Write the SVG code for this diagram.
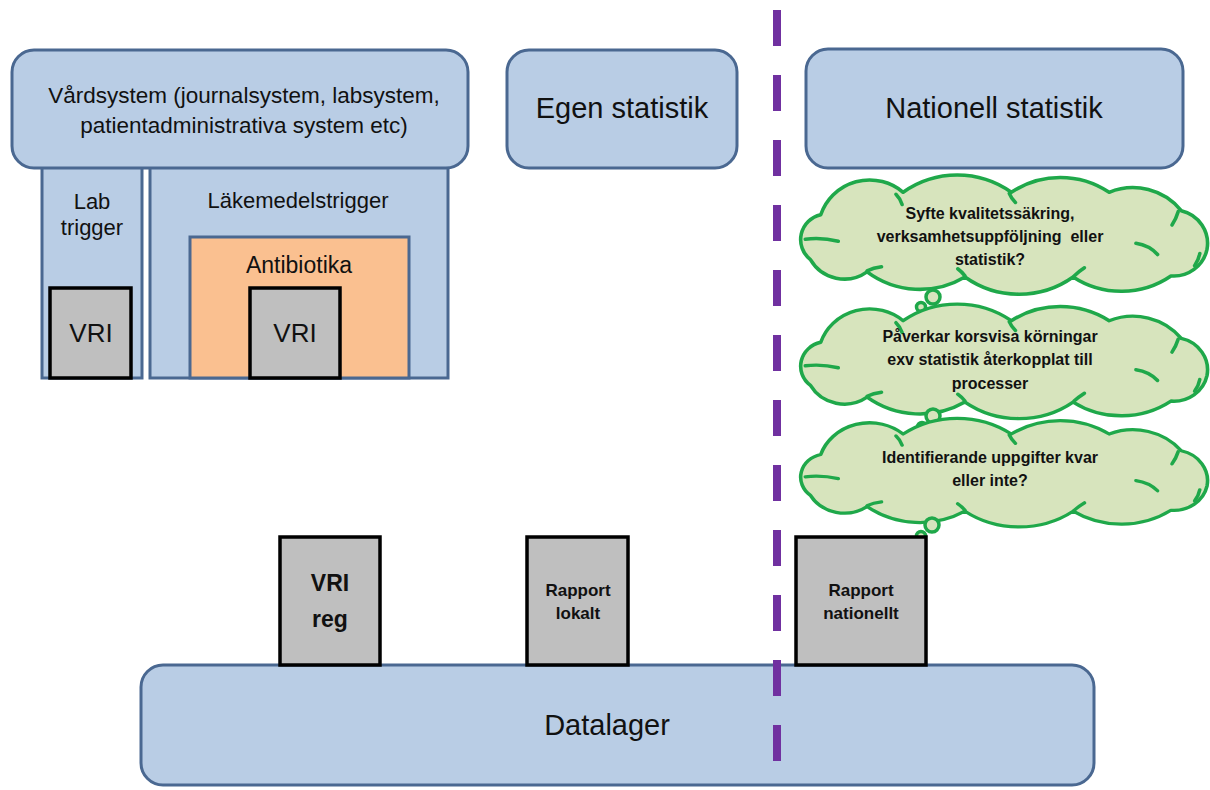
<svg xmlns="http://www.w3.org/2000/svg" width="1210" height="790" viewBox="0 0 1210 790">
<style>
.blue{fill:#b9cde5;stroke:#4a6891;stroke-width:3}
.orange{fill:#fac090;stroke:#4a6891;stroke-width:3}
.gray{fill:#bfbfbf;stroke:#000;stroke-width:3.5}
.cloud{fill:#d7e4bd;stroke:#1fa84a;stroke-width:3.5;stroke-linejoin:round}
.inner{fill:none;stroke:#1fa84a;stroke-width:3.5;stroke-linecap:round}
.t{font-family:"Liberation Sans",Arial,sans-serif;fill:#111;text-anchor:middle;white-space:pre}
.b{font-weight:bold}
.divider{stroke:#7030a0;stroke-width:8;stroke-dasharray:36 29;fill:none}
</style>
<defs>
<path id="cloudShape" d="M25,36 A50,50 0 0 1 105,14 A90,90 0 0 1 210,14 A85,85 0 0 1 305,14 A60,60 0 0 1 375,32 A33,33 0 0 1 400,70 A33,33 0 0 1 365,96 A85,85 0 0 1 270,97 A90,90 0 0 1 165,97 A85,85 0 0 1 70,92 A38,38 0 0 1 15,80 A25,25 0 0 1 25,36 Z"/>
<g id="cloudInner">
<path class="inner" d="M10,60 Q26,58 42,62"/>
<path class="inner" d="M98,16 Q102,20 104,26"/>
<path class="inner" d="M208,15 Q210,20 214,24"/>
<path class="inner" d="M372,33 Q370,40 366,46"/>
<path class="inner" d="M388,86 Q392,80 393,74"/>
<path class="inner" d="M331,64 Q344,66 352,75"/>
<path class="inner" d="M271,96 Q275,92 281,88"/>
<path class="inner" d="M165,96 Q162,92 158,89"/>
<path class="inner" d="M70,91 Q76,88 84,87"/>
</g>
</defs>

<g id="lab-trigger">
<rect class="blue" x="42" y="160" width="100" height="218"/>
<text class="t" x="92" y="209" font-size="22">Lab</text>
<text class="t" x="92" y="235" font-size="22">trigger</text>
</g>
<g id="lakemedelstrigger">
<rect class="blue" x="150" y="160" width="298" height="218"/>
<text class="t" x="298" y="208" font-size="22">Läkemedelstrigger</text>
</g>
<g id="antibiotika">
<rect class="orange" x="190" y="237" width="219" height="141"/>
<text class="t" x="299" y="273" font-size="23">Antibiotika</text>
</g>
<g id="vri1">
<rect class="gray" x="50" y="288" width="81" height="90"/>
<text class="t" x="91" y="342" font-size="26">VRI</text>
</g>
<g id="vri2">
<rect class="gray" x="250" y="288" width="90" height="90"/>
<text class="t" x="295" y="342" font-size="26">VRI</text>
</g>

<g id="vardsystem">
<rect class="blue" x="12" y="50" width="456" height="118" rx="22"/>
<text class="t" x="244" y="103" font-size="22.5">Vårdsystem (journalsystem, labsystem,</text>
<text class="t" x="244" y="133" font-size="22.5">patientadministrativa system etc)</text>
</g>
<g id="egen-statistik">
<rect class="blue" x="507" y="50" width="230" height="118" rx="22"/>
<text class="t" x="622" y="118" font-size="29">Egen statistik</text>
</g>
<g id="nationell-statistik">
<rect class="blue" x="806" y="49" width="377" height="119" rx="22"/>
<text class="t" x="994" y="118" font-size="29">Nationell statistik</text>
</g>

<g id="cloud1">
<use href="#cloudShape" class="cloud" transform="translate(795,178) scale(1.03,1.02)"/>
<use href="#cloudInner" transform="translate(795,178) scale(1.03,1.02)"/>
<text class="t b" x="990" y="219" font-size="16">Syfte kvalitetssäkring,</text>
<text class="t b" x="990" y="242" font-size="16" xml:space="preserve">verksamhetsuppföljning  eller</text>
<text class="t b" x="990" y="265" font-size="16">statistik?</text>
</g>
<g id="bubbles1">
<circle class="cloud" cx="933" cy="297" r="7"/>
<circle class="cloud" cx="921" cy="307" r="4.5"/>
</g>
<g id="cloud2">
<use href="#cloudShape" class="cloud" transform="translate(795,307) scale(1.03,0.98)"/>
<use href="#cloudInner" transform="translate(795,307) scale(1.03,0.98)"/>
<text class="t b" x="990" y="342" font-size="16">Påverkar korsvisa körningar</text>
<text class="t b" x="990" y="365" font-size="16">exv statistik återkopplat till</text>
<text class="t b" x="990" y="389" font-size="16">processer</text>
</g>
<g id="bubbles2">
<circle class="cloud" cx="933" cy="416" r="7"/>
<circle class="cloud" cx="922" cy="427" r="4.5"/>
</g>
<g id="cloud3">
<use href="#cloudShape" class="cloud" transform="translate(795,421) scale(1.03,0.93)"/>
<use href="#cloudInner" transform="translate(795,421) scale(1.03,0.93)"/>
<text class="t b" x="990" y="463" font-size="16">Identifierande uppgifter kvar</text>
<text class="t b" x="990" y="486" font-size="16">eller inte?</text>
</g>
<g id="bubbles3">
<circle class="cloud" cx="932" cy="525" r="7"/>
<circle class="cloud" cx="921" cy="536" r="4.5"/>
</g>

<g id="datalager">
<rect class="blue" x="141" y="665" width="953" height="120" rx="22"/>
<text class="t" x="607" y="735" font-size="29">Datalager</text>
</g>
<g id="vri-reg">
<rect class="gray" x="280" y="537" width="100" height="128"/>
<text class="t b" x="330" y="591" font-size="23">VRI</text>
<text class="t b" x="330" y="627" font-size="23">reg</text>
</g>
<g id="rapport-lokalt">
<rect class="gray" x="527" y="537" width="101" height="128"/>
<text class="t b" x="578" y="596" font-size="17">Rapport</text>
<text class="t b" x="578" y="619" font-size="17">lokalt</text>
</g>
<g id="rapport-nationellt">
<rect class="gray" x="796" y="537" width="130" height="128"/>
<text class="t b" x="861" y="596" font-size="17">Rapport</text>
<text class="t b" x="861" y="619" font-size="17">nationellt</text>
</g>

<g id="divider">
<line class="divider" x1="777" y1="10" x2="777" y2="790"/>
</g>
</svg>
